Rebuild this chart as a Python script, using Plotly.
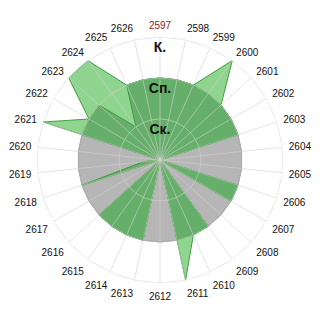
import plotly.graph_objects as go

categories = [str(c) for c in range(2597, 2627)]

# radial levels (categorical meaning of the radial scale)
level_values = [1, 2, 3]
level_labels = ["Ск.", "Сп.", "К."]

# reference disk (all categories at level "Сп.")
base_values = [2] * 30

# outer (light green) series
outer_values = [2, 2, 2, 3, 2, 2, 2, 0, 0, 2,
                2, 0, 2, 2, 3, 0, 2, 2, 2, 2,
                0, 2, 0.4, 0, 3, 2, 3, 3, 2, 2]

# inner (dark green) series
inner_values = [2, 2, 2, 2, 2, 2, 2, 0, 0, 2,
                2, 0, 2, 2, 2, 0, 2, 2, 2, 2,
                0, 2, 0.4, 0, 2, 2, 2, 1, 2, 2]

FONT = "Liberation Sans, Arial, sans-serif"


def closed(vals):
    return list(vals) + [vals[0]]


theta_closed = closed(categories)

fig = go.Figure()

fig.add_trace(go.Scatterpolar(
    r=closed(base_values), theta=theta_closed, mode="lines",
    fill="toself", fillcolor="#b6b6b6",
    line=dict(color="#7d7d7d", width=1), hoverinfo="skip"))

fig.add_trace(go.Scatterpolar(
    r=closed(outer_values), theta=theta_closed, mode="lines",
    fill="toself", fillcolor="#8fd58f",
    line=dict(color="#3f9f3f", width=1), hoverinfo="skip"))

fig.add_trace(go.Scatterpolar(
    r=closed(inner_values), theta=theta_closed, mode="lines",
    fill="toself", fillcolor="#66af6a",
    line=dict(color="#3f9f3f", width=1), hoverinfo="skip"))

# grid drawn over the fills so it shows through like in the reference
grid_col = "rgba(208,208,208,0.6)"
for lv in level_values:
    fig.add_trace(go.Scatterpolar(
        r=[lv] * 31, theta=theta_closed, mode="lines",
        line=dict(color=grid_col, width=1), hoverinfo="skip"))
spoke_r, spoke_t = [], []
for c in categories:
    spoke_r += [0, level_values[-1], None]
    spoke_t += [c, c, None]
fig.add_trace(go.Scatterpolar(
    r=spoke_r, theta=spoke_t, mode="lines",
    line=dict(color=grid_col, width=1), hoverinfo="skip", connectgaps=False))

# radial level labels
fig.add_trace(go.Scatterpolar(
    r=level_values, theta=[categories[0]] * 3, mode="markers+text",
    marker=dict(size=6, opacity=0),
    text=["<b>%s</b>" % t for t in level_labels], textposition="bottom center",
    textfont=dict(family=FONT, size=14, color="#111111"),
    hoverinfo="skip"))

ticktext = ['<span style="color:#8b1a1a">%s</span>' % categories[0]] + categories[1:]

fig.update_layout(
    width=320, height=320,
    margin=dict(l=37, r=37, t=37, b=37),
    paper_bgcolor="white",
    showlegend=False,
    font=dict(family=FONT, size=10, color="#111111"),
    polar=dict(
        bgcolor="white",
        radialaxis=dict(range=[0, 3], showgrid=False, showline=False,
                        showticklabels=False, ticks=""),
        angularaxis=dict(type="category", categoryarray=categories,
                         direction="clockwise", rotation=90,
                         tickmode="array", tickvals=categories, ticktext=ticktext,
                         showgrid=False, showline=False,
                         ticks="outside", ticklen=4, tickcolor="rgba(0,0,0,0)",
                         tickfont=dict(family=FONT, size=10, color="#111111")),
    ),
)

fig.write_html("out.html")
